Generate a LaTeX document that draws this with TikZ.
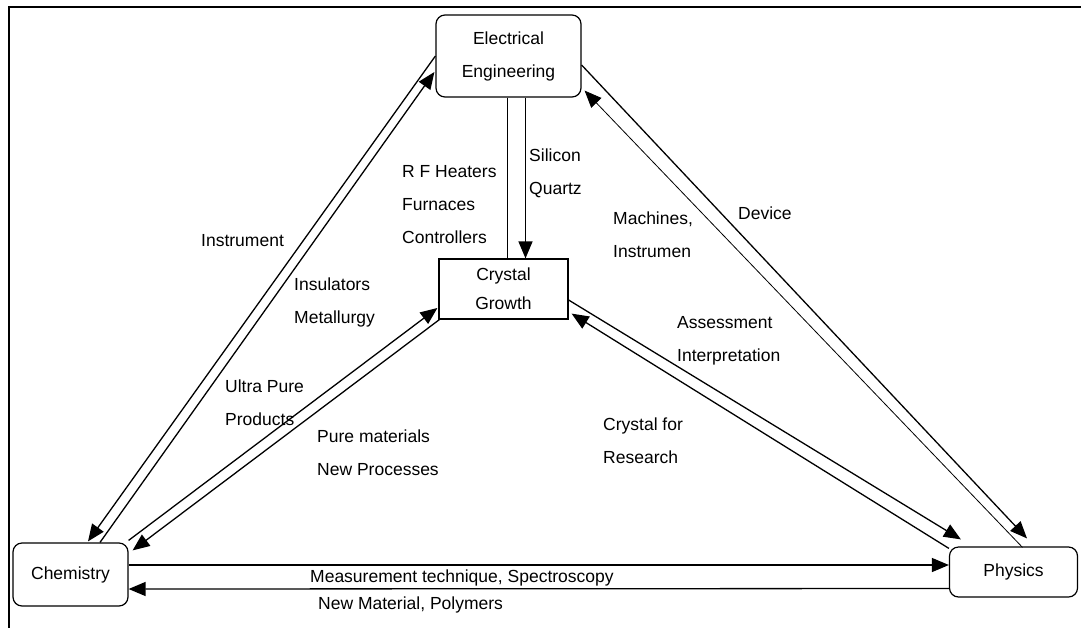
\documentclass[tikz,border=0pt]{standalone}
\usepackage{fontspec}
\setmainfont{Liberation Sans}
\usetikzlibrary{arrows.meta,calc}
\begin{document}
\begin{tikzpicture}[x=1pt,y=-1pt,
  box/.style={draw,line width=1.2pt,rounded corners=9pt,inner sep=0pt,align=center,font=\fontsize{17.5}{33}\selectfont},
  lbl/.style={inner sep=0pt,anchor=west,align=left,font=\fontsize{17.5}{33}\selectfont},
  conn/.style={line width=1.3pt},
  thinline/.style={line width=0.8pt},
  tip/.style={-{Triangle[length=17pt,width=14pt]}}]
\useasboundingbox (0,0) rectangle (1081,627);
\fill[white] (-10,-10) rectangle (1095,640);
\draw[line width=2.2pt] (9,640) -- (9,6.7) -- (1095,6.7);

% boxes
\node[box, minimum width=145pt, minimum height=82pt] (ee) at (508.5,56) {Electrical\\Engineering};
\node[box, rounded corners=0pt, minimum width=129pt, minimum height=60pt, font=\fontsize{17.5}{29}\selectfont] (cg) at (503.5,289) {Crystal\\Growth};
\node[box, minimum width=115pt, minimum height=63pt] (chem) at (70.5,574.5) {Chemistry};
\node[box, minimum width=128pt, minimum height=50pt] (phy) at (1013.5,572) {Physics};

% EE - Chemistry
\draw[conn,tip] (ee.west) -- ($(chem.north)+(17.5,-1)$);
\draw[conn,tip] ($(chem.north)+(29.5,0)$) -- ($(ee.west)+(-1,16)$);
% EE - Crystal Growth
\draw[line width=1pt] ($(ee.south)+(-1,0)$) -- ($(cg.north)+(4,0)$);
\draw[conn,tip] ($(ee.south)+(17,0)$) -- ($(cg.north)+(22,0)$);
% EE - Physics
\draw[conn,tip] ($(ee.east)+(0,9)$) -- ($(phy.north)+(13.5,-8)$);
\draw[thinline,tip] ($(phy.north)+(9,1)$) -- ($(ee.south east)+(3,-7)$);
% Crystal Growth - Chemistry
\draw[conn,tip] ($(chem.north east)+(0,-2)$) -- ($(cg.west)+(-1,19)$);
\draw[conn,tip] ($(cg.south west)+(1,0)$) -- ($(chem.north east)+(4,8)$);
% Crystal Growth - Physics
\draw[conn,tip] ($(cg.east)+(0,11)$) -- ($(phy.north west)+(12,-7)$);
\draw[conn,tip] ($(phy.north west)+(0,2)$) -- ($(cg.south east)+(3,-6)$);
% Chemistry - Physics
\draw[conn,tip] ($(chem.east)+(0,-9.5)$) -- ($(phy.west)+(0,-7)$);
\draw[conn,tip] ($(phy.west)+(0,16.5)$) -- ($(chem.east)+(0,14.5)$);

% labels
\node[lbl] (l1) at (201,241) {Instrument};
\node[lbl] (l2) at (294,302.5) {Insulators\\Metallurgy};
\node[lbl] (l3) at (402,205) {R F Heaters\\Furnaces\\Controllers};
\node[lbl] (l4) at (529,173.5) {Silicon\\Quartz};
\node[lbl] (l5) at (613,235) {Machines,\\Instrumen};
\node[lbl] (l6) at (738,213) {Device};
\node[lbl] (l7) at (677,341) {Assessment\\Interpretation};
\node[lbl] (l8) at (603,441) {Crystal for\\Research};
\node[lbl] (l9) at (225,403) {Ultra Pure\\Products};
\node[lbl] (l10) at (317,453) {Pure materials\\New Processes};
\node[lbl] (l11) at (310,578) {Measurement technique, Spectroscopy};
\node[lbl] (l12) at (318,605) {New Material, Polymers};
\end{tikzpicture}
\end{document}
